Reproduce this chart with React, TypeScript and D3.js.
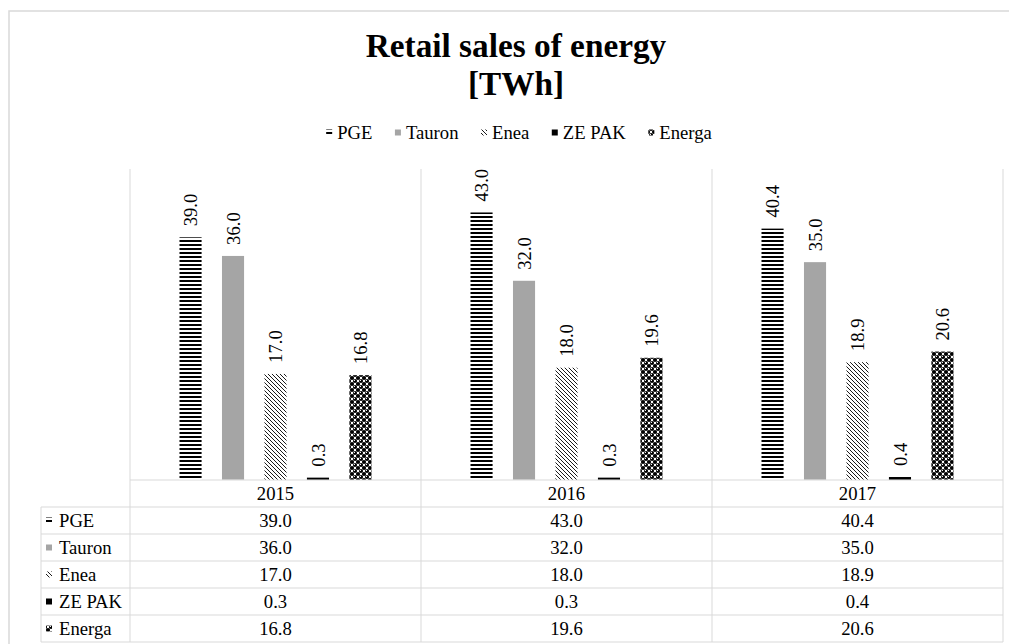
import React from "react";
import * as d3 from "d3";

const categories = ["2015", "2016", "2017"];
const seriesNames = ["PGE", "Tauron", "Enea", "ZE PAK", "Energa"];
const pge = [39.0, 43.0, 40.4];
const tauron = [36.0, 32.0, 35.0];
const enea = [17.0, 18.0, 18.9];
const zepak = [0.3, 0.3, 0.4];
const energa = [16.8, 19.6, 20.6];
const seriesValues = [pge, tauron, enea, zepak, energa];
const titleLines = ["Retail sales of energy", "[TWh]"];

const W = 1009;
const H = 644;
const FONT = "Liberation Serif, Times New Roman, serif";
const FS = 18.67;
const GRID = "#d9d9d9";

const fills = ["url(#pPGE)", "#a5a5a5", "url(#pEnea)", "#000000", "url(#pEnerga)"];

function measure(text: string, size: number, bold = false): number {
  if (typeof document === "undefined") return text.length * size * 0.5;
  const c = document.createElement("canvas");
  const ctx = c.getContext("2d");
  if (!ctx) return text.length * size * 0.5;
  ctx.font = `${bold ? "bold " : ""}${size}px "Liberation Serif"`;
  return ctx.measureText(text).width;
}

const txt = { fontFamily: FONT };

export default function App() {
  const plotLeft = 130;
  const plotRight = 1003;
  const plotTop = 169;
  const baseline = 479.5;
  const tableLeft = 41;

  const x0 = d3.scaleBand<string>().domain(categories).range([plotLeft, plotRight]).padding(0);
  const groupSpan = 192;
  const x1 = d3
    .scaleBand<string>()
    .domain(seriesNames)
    .range([(x0.bandwidth() - groupSpan) / 2, (x0.bandwidth() + groupSpan) / 2])
    .paddingInner(0.48)
    .paddingOuter(0);
  const y = d3.scaleLinear().domain([0, 50]).range([baseline, plotTop]);

  const rowKeys = ["header", ...seriesNames];
  const rows = d3.scaleBand<string>().domain(rowKeys).range([480, 642]);

  // legend layout
  const markerW = 6;
  const markerGap = 5;
  const itemGap = 22.5;
  const widths = seriesNames.map((s) => markerW + markerGap + measure(s, FS));
  const total = d3.sum(widths) + itemGap * (seriesNames.length - 1);
  const centerX = 519;
  let lx = centerX - total / 2;
  const legendItems = seriesNames.map((s, i) => {
    const item = { name: s, x: lx, i };
    lx += widths[i] + itemGap;
    return item;
  });
  const legendY = 132.5;

  return (
    <svg
      width={W}
      height={H}
      style={{ position: "absolute", left: 0, top: 0, background: "#ffffff" }}
    >
      <defs>
        <pattern id="pPGE" width={4} height={4} patternUnits="userSpaceOnUse">
          <rect width={4} height={4} fill="#fff" />
          <rect width={4} height={2} fill="#000" />
        </pattern>
        <pattern id="pEnea" width={4} height={4} patternUnits="userSpaceOnUse">
          <rect width={4} height={4} fill="#fff" />
          <path d="M-1,-1 L5,5 M-1,3 L1,5 M3,-1 L5,1" stroke="#000" strokeWidth={0.9} />
        </pattern>
        <pattern id="pEnerga" width={6} height={6} patternUnits="userSpaceOnUse">
          <rect width={6} height={6} fill="#fff" />
          <circle cx={0} cy={0} r={2.1} fill="#000" />
          <circle cx={6} cy={0} r={2.1} fill="#000" />
          <circle cx={0} cy={6} r={2.1} fill="#000" />
          <circle cx={6} cy={6} r={2.1} fill="#000" />
          <circle cx={3} cy={3} r={2.1} fill="#000" />
          <circle cx={2.4} cy={2.4} r={0.6} fill="#fff" />
        </pattern>
      </defs>
      <rect x={0} y={0} width={W} height={H} fill="#fff" />
      <rect x={9} y={11} width={1100} height={700} fill="none" stroke={GRID} strokeWidth={1.5} />

      {/* title */}
      {titleLines.map((t, i) => (
        <text
          key={t}
          x={516}
          y={57 + i * 38}
          textAnchor="middle"
          fontSize={33.3}
          fontWeight="bold"
          fill="#000"
          style={txt}
        >
          {t}
        </text>
      ))}

      {/* legend */}
      {legendItems.map((it) => (
        <g key={it.name}>
          <rect x={it.x} y={legendY - 3} width={markerW} height={markerW} fill={fills[it.i]} />
          <text x={it.x + markerW + markerGap} y={legendY + 6.2} fontSize={FS} fill="#000" style={txt}>
            {it.name}
          </text>
        </g>
      ))}

      {/* grid: vertical category separators */}
      {[...categories.map((c) => x0(c) as number), plotRight].map((vx, i) => (
        <line key={"v" + i} x1={vx} x2={vx} y1={plotTop} y2={642} stroke={GRID} strokeWidth={1} />
      ))}
      <line x1={tableLeft} x2={tableLeft} y1={rows("PGE") as number} y2={642} stroke={GRID} strokeWidth={1} />

      {/* table horizontal lines */}
      <line x1={plotLeft} x2={plotRight} y1={480} y2={480} stroke={GRID} strokeWidth={1} />
      {seriesNames.map((s) => (
        <line
          key={"h" + s}
          x1={tableLeft}
          x2={plotRight}
          y1={rows(s) as number}
          y2={rows(s) as number}
          stroke={GRID}
          strokeWidth={1}
        />
      ))}
      <line x1={tableLeft} x2={plotRight} y1={642} y2={642} stroke={GRID} strokeWidth={1} />

      {/* bars */}
      {categories.map((c, ci) => (
        <g key={c} transform={`translate(${x0(c)},0)`}>
          {seriesNames.map((s, si) => {
            const v = seriesValues[si][ci];
            const bx = x1(s) as number;
            const bw = x1.bandwidth();
            const top = y(v);
            return (
              <g key={s}>
                <rect x={bx} y={top} width={bw} height={baseline - top} fill={fills[si]} />
                <text
                  transform={`translate(${bx + bw / 2},${top - 11}) rotate(-90)`}
                  fontSize={FS}
                  textAnchor="start"
                  dy="0.35em"
                  fill="#000"
                  style={txt}
                >
                  {v.toFixed(1)}
                </text>
              </g>
            );
          })}
        </g>
      ))}

      {/* table header */}
      {categories.map((c) => (
        <text
          key={"th" + c}
          x={(x0(c) as number) + x0.bandwidth() / 2}
          y={(rows("header") as number) + rows.bandwidth() / 2 + 6.3}
          textAnchor="middle"
          fontSize={FS}
          fill="#000"
          style={txt}
        >
          {c}
        </text>
      ))}

      {/* table rows */}
      {seriesNames.map((s, si) => {
        const ry = (rows(s) as number) + rows.bandwidth() / 2;
        return (
          <g key={"r" + s}>
            <rect x={46} y={ry - 3} width={markerW} height={markerW} fill={fills[si]} />
            <text x={59} y={ry + 6.3} fontSize={FS} fill="#000" style={txt}>
              {s}
            </text>
            {categories.map((c, ci) => (
              <text
                key={c}
                x={(x0(c) as number) + x0.bandwidth() / 2}
                y={ry + 6.3}
                textAnchor="middle"
                fontSize={FS}
                fill="#000"
                style={txt}
              >
                {seriesValues[si][ci].toFixed(1)}
              </text>
            ))}
          </g>
        );
      })}
    </svg>
  );
}
